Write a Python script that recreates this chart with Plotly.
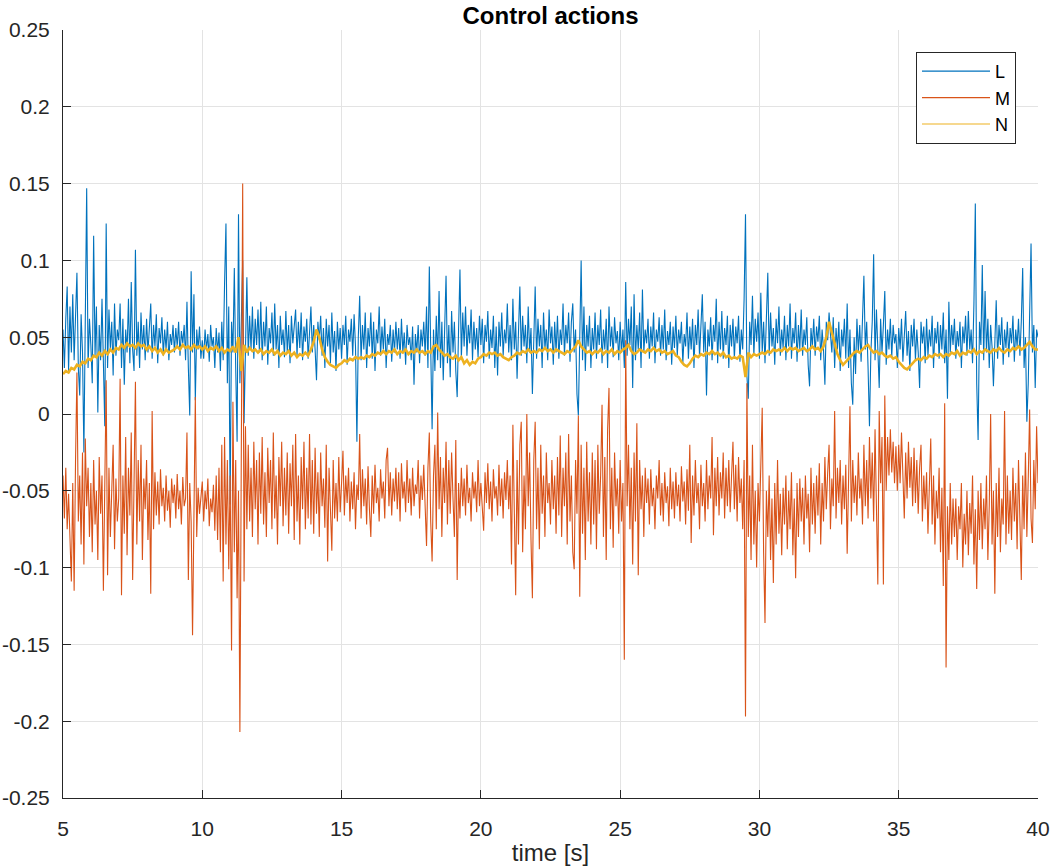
import plotly.graph_objects as go

# ---------------- data (values in thousandths, i.e. value = v / 1000) ----------------
T_START = 5.0
DT_LM = 0.05   # sample spacing of L and M [s]
DT_N = 0.1     # sample spacing of N [s]

SERIES_NAMES = ["L", "M", "N"]

L_milli = [
    55, 30, 62, 83, 28, 70, 40, 78, 35, 60, 92, 30, 12, 65, 40, -25, 55, 147, 30, 62,
    45, 20, 116, 38, 70, 1, 58, 35, 75, 40, -8, 124, 30, 68, 42, 60, 25, 72, 38, 55,
    48, 72, 30, 62, 19, 55, 40, 75, 33, 86, 42, 28, 107, 38, 60, 30, 66, 42, 58, 35,
    62, 40, 55, 72, 36, 58, 44, 65, 33, 56, 46, 63, 38, 55, 42, 60, 35, 52, 45, 58,
    40, 56, 44, 60, 38, 54, 46, 58, 35, 73, 30, -1, 93, 40, 78, 9, 55, 42, 57, 36,
    48, 36, 55, 42, 52, 34, 58, 44, 50, 30, 56, 40, 53, 28, 60, 35, 85, 124, 20, 70,
    -59, 60, 40, 95, 30, -18, 130, 20, 60, 100, -6, 55, 89, 38, 64, 42, 70, 36, 62, 45,
    68, 40, 73, 35, 60, 44, 70, 32, 56, 46, 66, 38, 72, 42, 58, 30, 64, 45, 55, 37,
    67, 40, 58, 33, 64, 46, 55, 68, 38, 60, 43, 66, 35, 57, 47, 62, 36, 55, 70, 40,
    58, 42, 22, 60, 48, 64, 38, 56, 30, 62, 44, 58, 33, 66, 40, 54, 28, 60, 42, 56,
    36, 58, 45, 64, 32, 55, 47, 62, 38, 65, 44, -18, 50, 77, 35, 58, 42, 66, 30, 56,
    44, 66, 36, 60, 28, 55, 46, 70, 38, 57, 42, 62, 30, 52, 45, 58, 34, 55, 40, 60,
    42, 56, 36, 62, 40, 53, 32, 58, 45, 50, 35, 57, 19, 52, 40, 58, 33, 55, 44, 60,
    38, 70, 30, 96, 40, -10, 55, 28, 64, 35, 80, 30, 60, 22, 55, 90, 33, 58, 24, 67,
    40, 60, 28, 11, 55, 94, 36, 66, 44, 70, 38, 58, 46, 68, 35, 60, 42, 56, 37, 64,
    45, 62, 33, 58, 47, 67, 36, 55, 43, 64, 30, 57, 25, 60, 44, 66, 38, 55, 46, 72,
    40, 58, 35, 75, 42, 60, 23, 55, 83, 38, 64, 44, 58, 33, 70, 40, 56, 13, 60, 83,
    36, 62, 44, 58, 30, 66, 42, 55, 35, 68, 46, 57, 32, 60, 40, 64, 36, 55, 45, 72,
    38, 58, 46, 66, 34, 60, 72, 40, 55, 13, -1, 50, 100, 35, 70, 28, 58, 44, 64, 30,
    56, 42, 66, 36, 58, 45, 68, 33, 55, 42, 62, 30, 70, 44, 57, 37, 63, 46, 54, 35,
    60, 40, 55, 30, 86, 38, 62, 45, 70, 17, 78, 35, 58, 42, 66, 30, 81, 40, 55, 46,
    62, 36, 57, 44, 66, 33, 55, 47, 63, 38, 58, 42, 68, 35, 54, 45, 60, 32, 57, 43,
    64, 38, 55, 46, 60, 33, 52, 44, 66, 36, 57, 42, 62, 30, 58, 45, 68, 37, 55, 78,
    40, 60, 12, 55, 44, 63, 35, 58, 47, 75, 33, 60, 42, 67, 36, 56, 45, 64, 30, 58,
    44, 62, 36, 57, 46, 64, 34, 55, 42, 75, 130, 25, 10, 60, 45, 77, 38, 62, 47, 66,
    36, 79, 40, 60, 33, 58, 92, 38, 66, 44, 56, 32, 62, 46, 70, 38, 55, 43, 64, 35,
    58, 44, 72, 36, 56, 46, 66, 34, 58, 42, 68, 38, 55, 45, 63, 32, 18, 56, 44, 62,
    38, 57, 47, 64, 35, 55, 42, 19, 60, 48, 66, 52, 40, 63, 30, 56, 42, 60, 28, 55,
    44, 62, 36, 72, 30, 55, 20, 6, 50, 26, 62, 40, 58, 34, 66, 90, 42, 60, 30, -8,
    40, 60, 104, 35, 68, 44, 17, 62, 40, 58, 80, 32, 55, 42, 62, 37, 58, 46, 52, 30,
    56, 42, 62, 34, 55, 67, 38, 54, 28, 58, 44, 62, 35, 55, 40, 17, 60, 46, 57, 33,
    62, 38, 55, 44, 64, 30, 56, 46, 60, 36, 58, 42, 66, 33, 55, 10, 73, 40, 58, 45,
    62, 36, 54, 44, 60, 30, 57, 46, 64, 38, 67, 42, 55, 33, 72, 137, 20, -17, 60, 45,
    97, 35, 80, 40, 62, 30, 58, 44, 18, 56, 74, 36, 58, 45, 63, 32, 55, 43, 60, 37,
    56, 46, 64, 34, 55, 44, 62, 38, 60, 95, 30, 50, -5, 20, 72, 111, 40, 58, 17, 55,
    50,
]

M_milli = [
    -40, -68, -35, -75, -52, -90, -109, -45, -115, -30, 27, -70, -40, -85, -25, -98, -16, -60, -35, -80,
    -45, -90, -30, -72, -50, -95, -28, -65, -40, -115, -55, 22, -105, -35, -80, -48, -20, -88, -42, -70,
    -55, 23, -118, -40, -78, -15, -92, -35, -66, -12, -108, -45, 21, -85, -30, -70, -20, -95, -42, -62,
    -30, -82, -45, -117, 2, -75, -38, -66, -44, -72, -36, -60, -48, -70, -40, -63, -50, -74, -42, -58,
    -46, -68, -39, -62, -50, -72, -41, -60, -55, -12, -108, -45, -70, -144, -38, 11, -80, -48, -65, -52,
    -44, -70, -50, -62, -42, -73, -55, -64, -46, -76, -40, -82, -35, -90, -20, -109, -15, -85, -30, -101,
    -40, -154, 8, -90, -30, -120, -50, -207, -60, 150, -109, -8, -75, -20, -70, -35, -80, -18, -62, -30,
    -85, -25, -65, -15, -72, -38, -80, -22, -58, -30, -75, -12, -68, -40, -85, -28, -60, -18, -73, -35,
    -66, -25, -78, -32, -60, -20, -82, -13, -70, -40, -85, -28, -62, -18, -75, -35, -68, -13, -72, -30,
    -78, -22, -65, -38, -80, -25, -60, -42, -74, -20, -96, -35, -62, -89, -30, -68, -45, -70, -28, -64,
    -45, -24, -66, -40, -58, -35, -70, -44, -62, -38, -75, -46, -56, -13, -68, -36, -60, -42, -72, -34,
    -62, -80, -40, -65, -33, -58, -48, -70, -36, -55, -44, -68, -30, -22, -60, -38, -66, -42, -57, -35,
    -62, -38, -70, -32, -55, -44, -64, -30, -58, -42, -66, -35, -60, -46, -52, -30, -68, -40, -56, -33,
    -60, -86, -35, -12, -70, -96, -40, -20, -75, 1, -62, -28, -80, -35, -58, -18, -72, -30, -65, -25,
    -55, -80, -17, -108, -45, -68, -35, -60, -42, -66, -33, -58, -48, -70, -38, -55, -44, -64, -30, -60,
    -45, -65, -76, -38, -58, -32, -62, -44, -70, -36, -55, -47, -66, -33, -60, -42, -68, -38, -56, -30,
    -62, -40, -98, -7, -70, -118, -30, -85, -20, -5, -90, -40, -75, 0, -60, -25, -82, -120, -30, -5,
    -75, -35, -88, -20, -65, -40, -80, -25, -58, -45, -72, -30, -62, -40, -78, -28, -66, -14, -80, -35,
    -60, -25, -85, -13, -70, -40, -90, -101, -30, -65, -1, -119, -20, -78, -35, -95, -18, -70, -38, -85,
    -25, -72, -30, -88, -20, -65, -40, 6, -80, -28, -95, -10, 17, -75, -35, -87, -25, -60, -42, -78,
    -30, -70, -45, -160, 48, -60, -20, -75, -35, -98, -25, -70, -6, -105, -30, -62, -40, -80, -35, -58,
    -42, -72, -36, -60, -48, -75, -40, -55, -30, -66, -45, -70, -38, -58, -47, -73, -35, -62, -44, -68,
    -38, -60, -46, -70, -34, -57, -44, -72, -36, -63, -20, -84, -40, -66, -30, -58, -45, -75, -33, -60,
    -45, -70, -30, -62, -40, -55, -15, -79, -35, -60, -28, -66, -38, -55, -25, -68, -35, -60, -30, -64,
    -40, -18, -62, -33, -70, -28, -58, -42, -75, -30, -197, 20, -80, -40, -95, -20, -85, -50, -100, -45,
    -70, -35, 4, -90, -136, -50, -80, -40, -95, -55, -110, -45, -85, -30, -78, -52, -92, -48, -72, -40,
    -88, -50, -75, -38, -92, -55, -107, -45, -80, -42, -70, -48, -85, -40, -68, -52, -90, -35, -72, -45,
    -78, -40, -66, -32, -85, -45, -70, -28, -62, -38, -20, -75, -42, -60, 2, -68, -35, -58, -30, -72,
    -40, -62, -33, -91, -45, 5, -70, -30, -58, -40, -66, -25, -55, -42, -72, -20, -60, -30, -68, -15,
    -55, -25, -70, -10, -60, -111, 2, -45, -15, -111, 12, -50, -15, -40, -10, -38, -18, -45, -21, -50,
    -20, -45, -12, -40, -68, -25, -55, -18, -48, -28, -60, -22, -58, -30, -65, -35, -20, -70, -40, -62,
    -38, -78, -45, -16, -72, -40, -85, -50, -68, -35, -90, -48, -112, 7, -165, -60, -95, -45, -85, -55,
    -80, -55, -95, -60, -75, -45, -100, -65, -85, -50, -92, -58, -78, -40, -98, -62, -114, -50, -82, -45,
    -88, -55, -75, -40, -95, -60, 0, -85, -50, -117, -45, -80, -35, -90, -55, -72, 2, -85, -40, -78,
    -50, -82, -35, -70, -45, -88, -30, -65, -108, -40, -75, -25, -80, -42, 3, -68, -84, -30, -62, -8,
    -45,
]

N_milli = [
    26, 28, 27, 30, 29, 32, 31, 34, 33, 36,
    35, 38, 37, 40, 38, 41, 39, 42, 40, 43,
    42, 45, 43, 46, 44, 45, 43, 46, 44, 45,
    42, 44, 41, 43, 40, 42, 39, 42, 40, 41,
    42, 44, 42, 45, 43, 44, 42, 45, 43, 44,
    42, 44, 41, 43, 42, 44, 41, 43, 40, 42,
    41, 44, 40, 50, 28, 45, 40, 43, 41, 42,
    40, 42, 39, 41, 40, 42, 39, 41, 38, 40,
    39, 41, 38, 40, 37, 39, 38, 40, 38, 42,
    47, 55, 50, 42, 37, 34, 32, 31, 30, 32,
    33, 35, 34, 36, 35, 37, 36, 37, 36, 38,
    37, 39, 38, 40, 39, 41, 39, 41, 40, 42,
    39, 41, 40, 42, 39, 41, 40, 42, 40, 41,
    39, 41, 40, 44, 45, 42, 40, 38, 39, 37,
    36, 38, 35, 37, 33, 35, 32, 34, 33, 36,
    37, 39, 38, 40, 39, 40, 38, 39, 37, 36,
    35, 37, 38, 40, 39, 41, 40, 42, 40, 41,
    40, 42, 41, 43, 41, 42, 40, 42, 41, 40,
    39, 41, 40, 42, 44, 48, 44, 42, 40, 41,
    39, 41, 40, 42, 39, 41, 40, 42, 39, 41,
    40, 42, 43, 45, 41, 39, 40, 42, 41, 40,
    42, 41, 43, 41, 42, 40, 41, 39, 40, 41,
    38, 37, 34, 32, 31, 33, 36, 38, 37, 39,
    38, 40, 39, 41, 39, 40, 38, 40, 37, 38,
    36, 37, 36, 38, 37, 24, 40, 37, 39, 38,
    39, 40, 39, 41, 40, 42, 41, 42, 41, 43,
    41, 43, 42, 43, 41, 42, 43, 41, 42, 44,
    42, 43, 41, 44, 50, 60, 53, 45, 39, 35,
    32, 34, 36, 38, 40, 41, 40, 42, 44, 45,
    42, 40, 41, 39, 40, 38, 37, 38, 36, 37,
    34, 32, 30, 29, 31, 33, 35, 36, 35, 37,
    36, 38, 37, 39, 38, 39, 37, 39, 38, 40,
    39, 41, 38, 40, 39, 41, 40, 42, 39, 41,
    40, 42, 41, 40, 42, 41, 43, 41, 40, 42,
    41, 43, 42, 44, 42, 43, 45, 47, 44, 42,
    42,
]

X_TICKS = [5, 10, 15, 20, 25, 30, 35, 40]
Y_TICKS = [-0.25, -0.2, -0.15, -0.1, -0.05, 0, 0.05, 0.1, 0.15, 0.2, 0.25]
Y_TICK_TEXT = ["-0.25", "-0.2", "-0.15", "-0.1", "-0.05", "0", "0.05", "0.1", "0.15", "0.2", "0.25"]

COLORS = ["#0072BD", "#D95319", "#EDB120"]

# ---------------- figure ----------------
def times(n, dt):
    return [T_START + i * dt for i in range(n)]

series = [
    (L_milli, DT_LM, 1.1),
    (M_milli, DT_LM, 1.1),
    (N_milli, DT_N, 2.6),
]

fig = go.Figure()
for (vals, dt, w), name, col in zip(series, SERIES_NAMES, COLORS):
    fig.add_trace(go.Scatter(
        x=times(len(vals), dt),
        y=[v / 1000.0 for v in vals],
        mode="lines",
        name=name,
        legendgroup=name,
        showlegend=False,
        line=dict(color=col, width=w),
        hoverinfo="skip",
    ))
# legend proxies (thin lines, no data) so legend keys look like the reference
for name, col in zip(SERIES_NAMES, COLORS):
    fig.add_trace(go.Scatter(
        x=[None], y=[None], mode="lines", name=name, legendgroup=name,
        line=dict(color=col, width=1.2), showlegend=True,
    ))

FONT = "Liberation Sans, Arial, Helvetica, sans-serif"
AX_COL = "#262626"

fig.update_layout(
    width=1051, height=868,
    margin=dict(l=63, r=13, t=30, b=70, autoexpand=False),
    paper_bgcolor="white", plot_bgcolor="white",
    font=dict(family=FONT, size=21, color=AX_COL),
    title=dict(text="<b>Control actions</b>", x=550.5 / 1051, xanchor="center",
               y=1 - 16 / 868, yanchor="middle", yref="container",
               font=dict(size=24, color="black")),
    showlegend=True,
    legend=dict(x=(1016 - 63) / 975, xanchor="right", y=(798 - 52) / 768, yanchor="top",
                bgcolor="white", bordercolor=AX_COL, borderwidth=1,
                itemwidth=68,
                font=dict(size=18, color="black"), tracegroupgap=0),
    hovermode=False,
)

fig.update_xaxes(
    range=[5, 40], tickvals=X_TICKS, ticktext=[str(v) for v in X_TICKS],
    automargin=False,
    showgrid=True, gridcolor="#e3e3e3", gridwidth=1, zeroline=False,
    showline=True, linecolor=AX_COL, linewidth=1,
    ticks="inside", ticklen=8, tickcolor=AX_COL, ticklabelstandoff=12,
    title=dict(text="time [s]", font=dict(size=24, color=AX_COL), standoff=4),
)
fig.update_yaxes(
    range=[-0.25, 0.25], tickvals=Y_TICKS, ticktext=Y_TICK_TEXT,
    automargin=False,
    showgrid=True, gridcolor="#e3e3e3", gridwidth=1, zeroline=False,
    showline=True, linecolor=AX_COL, linewidth=1,
    ticks="inside", ticklen=8, tickcolor=AX_COL, ticklabelstandoff=8,
)

fig.write_html("out.html", config={"displayModeBar": False})
